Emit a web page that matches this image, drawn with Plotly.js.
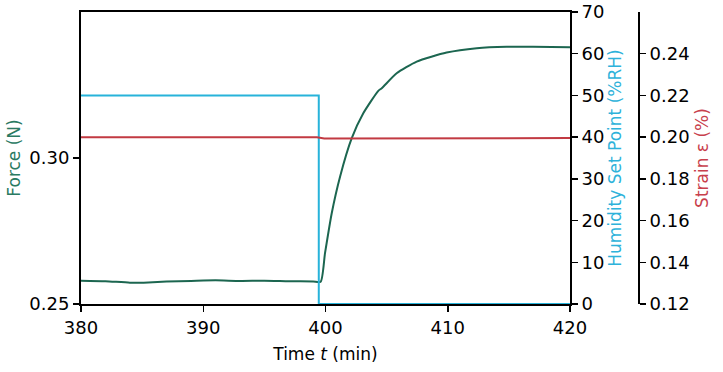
<!DOCTYPE html>
<html>
<head>
<meta charset="utf-8">
<script src="https://cdn.plot.ly/plotly-3.0.1.min.js"></script>
<style>html,body{margin:0;padding:0;background:#fff;}#chart{width:723px;height:372px;}</style>
</head>
<body>
<div id="chart"></div>
<script>
// Force (N) vs time (min)
var forceTime = [380, 382, 384, 385.5, 387, 389, 391, 393, 395, 397, 399, 399.6, 399.96, 400.51, 401.19, 402.14, 403.09, 404.32, 404.6, 405.82, 407.46, 409.91, 412.37, 414.82, 416.97, 420];
var forceVals = [0.2580, 0.2578, 0.2573, 0.2574, 0.2577, 0.2579, 0.2581, 0.2579, 0.2580, 0.2578, 0.2577, 0.2576, 0.2674, 0.2811, 0.2936, 0.3067, 0.3153, 0.3230, 0.3239, 0.3290, 0.3330, 0.3361, 0.3376, 0.3381, 0.3381, 0.3379];
// Humidity set point (%RH)
var humTime = [380, 399.45, 399.45, 420];
var humVals = [50, 50, 0, 0];
// Strain (%)
var strainTime = [380, 399.3, 399.9, 410, 420];
var strainVals = [0.1999, 0.1999, 0.1993, 0.1994, 0.1996];
// Tick labels
var forceTicks = [0.25, 0.30];
var forceTickText = ["0.25", "0.30"];
var humTicks = [0, 10, 20, 30, 40, 50, 60, 70];
var strainTicks = [0.12, 0.14, 0.16, 0.18, 0.20, 0.22, 0.24];
var strainTickText = ["0.12", "0.14", "0.16", "0.18", "0.20", "0.22", "0.24"];
var timeTicks = [380, 390, 400, 410, 420];

var green = '#1c6650', blue = '#27b3da', red = '#c23a42';
var titleGreen = '#2a7a62', titleBlue = '#2eb2da', titleRed = '#c8404c';
var font = '"DejaVu Sans", sans-serif';

var traces = [
  {x: humTime, y: humVals, yaxis: 'y2', mode: 'lines', line: {color: blue, width: 2}, showlegend: false},
  {x: strainTime, y: strainVals, yaxis: 'y3', mode: 'lines', line: {color: red, width: 2}, showlegend: false},
  {x: forceTime, y: forceVals, yaxis: 'y', mode: 'lines', line: {color: green, width: 2, shape: 'spline', smoothing: 0.6}, showlegend: false}
];

var axisCommon = {showline: true, linecolor: '#000', linewidth: 2, ticks: 'outside', ticklen: 6, tickwidth: 1.5, tickcolor: '#000', showgrid: false, zeroline: false, tickfont: {family: font, size: 18, color: '#000'}};

var layout = {
  width: 723, height: 372,
  margin: {l: 81, r: 84, t: 12, b: 68},
  paper_bgcolor: '#fff', plot_bgcolor: '#fff',
  font: {family: font, size: 18, color: '#000'},
  xaxis: Object.assign({}, axisCommon, {domain: [0, 489/558], range: [380, 420], tickvals: timeTicks, mirror: true,
    title: {text: 'Time <i>t</i> (min)', font: {family: font, size: 17, color: '#000'}, standoff: 12}}),
  yaxis: Object.assign({}, axisCommon, {range: [0.25, 0.35], tickvals: forceTicks, ticktext: forceTickText,
    title: {text: 'Force (N)', font: {family: font, size: 17, color: titleGreen}, standoff: 4}}),
  yaxis2: Object.assign({}, axisCommon, {overlaying: 'y', side: 'right', anchor: 'x', range: [0, 70], tickvals: humTicks,
    title: {text: 'Humidity Set Point (%RH)', font: {family: font, size: 17, color: titleBlue}, standoff: 4}}),
  yaxis3: Object.assign({}, axisCommon, {overlaying: 'y', side: 'right', anchor: 'free', position: 1, range: [0.12, 0.26], tickvals: strainTicks, ticktext: strainTickText,
    title: {text: 'Strain ε (%)', font: {family: font, size: 17, color: titleRed}, standoff: 6}})
};

Plotly.newPlot('chart', traces, layout, {displayModeBar: false, staticPlot: true});
</script>
</body>
</html>
